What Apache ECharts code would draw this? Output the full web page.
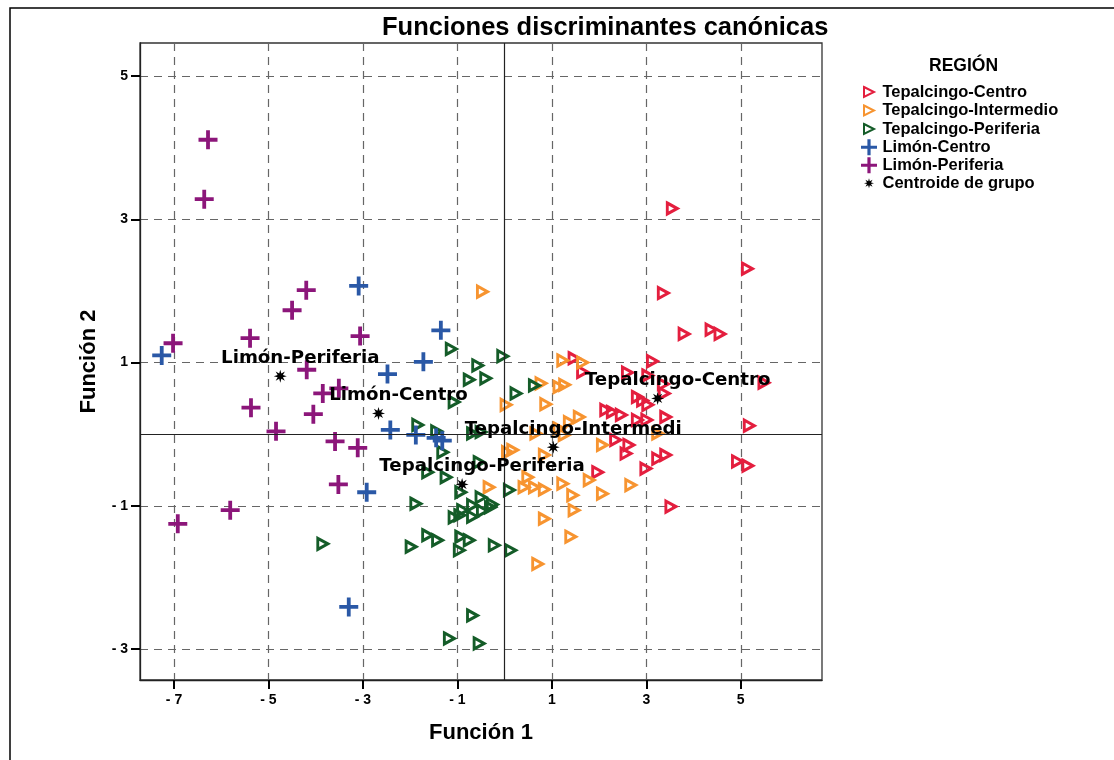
<!DOCTYPE html>
<html><head><meta charset="utf-8">
<script src="https://cdn.jsdelivr.net/npm/echarts@6/dist/echarts.min.js"></script>
<style>html,body{margin:0;padding:0;background:#fff}#c{width:1114px;height:760px}</style>
</head><body><div id="c"></div><script>
// ---- data ----
const xTicks = [-7, -5, -3, -1, 1, 3, 5];
const yTicks = [-3, -1, 1, 3, 5];
const seriesNames = ['Tepalcingo-Centro', 'Tepalcingo-Intermedio', 'Tepalcingo-Periferia', 'Limón-Centro', 'Limón-Periferia', 'Centroide de grupo'];

const tepCentro = [[3.55,3.15],[5.14,2.31],[3.36,1.97],[3.80,1.40],[4.37,1.46],[4.56,1.40],[3.13,1.02],[1.47,1.06],[1.65,0.87],[2.60,0.86],[3.03,0.82],[5.49,0.72],[3.36,0.70],[2.81,0.52],[2.92,0.47],[3.03,0.41],[3.38,0.57],[2.14,0.34],[2.28,0.31],[2.47,0.27],[2.81,0.20],[3.01,0.20],[3.41,0.24],[5.18,0.12],[2.35,-0.08],[2.63,-0.15],[2.57,-0.27],[3.24,-0.34],[3.41,-0.29],[2.99,-0.48],[1.97,-0.53],[4.93,-0.38],[5.15,-0.44],[3.52,-1.01]];

const tepIntermedio = [[-0.47,1.99],[1.23,1.03],[1.65,1.00],[0.77,0.71],[1.15,0.66],[1.27,0.69],[0.03,0.41],[0.87,0.42],[1.37,0.17],[1.58,0.24],[1.15,0.08],[1.26,-0.01],[0.66,0.01],[0.84,-0.29],[0.17,-0.22],[0.06,-0.25],[2.07,-0.15],[3.24,0.01],[0.49,-0.60],[-0.33,-0.74],[0.41,-0.74],[0.63,-0.74],[0.84,-0.77],[1.23,-0.69],[1.44,-0.85],[1.79,-0.64],[2.07,-0.83],[2.67,-0.71],[1.47,-1.06],[0.84,-1.18],[1.40,-1.43],[0.70,-1.81]];

const tepPeriferia = [[-1.13,1.19],[-0.04,1.09],[-0.57,0.96],[-0.75,0.76],[-0.40,0.78],[-1.07,0.45],[0.24,0.57],[0.63,0.68],[-1.84,0.13],[-1.44,0.04],[-0.68,0.01],[-0.50,0.03],[-1.31,-0.25],[-1.63,-0.53],[-1.24,-0.60],[-0.54,-0.39],[-0.93,-0.81],[-1.88,-0.97],[0.10,-0.78],[-0.50,-0.88],[-0.26,-0.98],[-0.68,-0.99],[-0.89,-1.06],[-1.07,-1.16],[-0.68,-1.15],[-0.47,-1.07],[-0.95,-1.13],[-0.30,-1.02],[-1.63,-1.41],[-1.42,-1.48],[-1.98,-1.57],[-0.93,-1.43],[-0.75,-1.48],[-0.96,-1.62],[-0.22,-1.55],[0.13,-1.62],[-3.85,-1.53],[-0.68,-2.53],[-1.17,-2.85],[-0.54,-2.92]];

const limonCentro = [[-3.09,2.07],[-1.35,1.45],[-1.72,1.01],[-7.26,1.10],[-2.48,0.84],[-2.42,0.06],[-1.88,-0.01],[-1.45,-0.05],[-1.32,-0.09],[-2.92,-0.81],[-3.30,-2.41]];

const limonPeriferia = [[-6.28,4.11],[-6.36,3.28],[-4.20,2.01],[-4.50,1.73],[-5.39,1.34],[-3.06,1.37],[-7.02,1.27],[-4.19,0.90],[-3.85,0.57],[-3.51,0.64],[-5.37,0.37],[-4.05,0.28],[-4.84,0.04],[-3.59,-0.10],[-3.11,-0.19],[-3.52,-0.70],[-5.81,-1.06],[-6.92,-1.25]];

const centroidNames = ['Tepalcingo-Centro', 'Tepalcingo-Intermedi', 'Tepalcingo-Periferia', 'Limón-Centro', 'Limón-Periferia'];
const centroids = [[3.24,0.50],[1.03,-0.18],[-0.90,-0.70],[-2.67,0.29],[-4.75,0.81]];

// ---- styles ----
const colors = ['rgb(228,30,62)', 'rgb(247,148,48)', 'rgb(20,92,40)', 'rgb(42,88,166)', 'rgb(140,22,122)', '#000'];
const triPath = 'path://M0,0L10,5L0,10Z';
const crossPath = 'path://M4,0H6V4H10V6H6V10H4V6H0V4H4Z';
const starPath = 'path://M10,5L7.03,5.84L8.54,8.54L5.84,7.03L5,10L4.16,7.03L1.46,8.54L2.97,5.84L0,5L2.97,4.16L1.46,1.46L4.16,2.97L5,0L5.84,2.97L8.54,1.46L7.03,4.16Z';
const triIcon = 'path://M-3,-3M0,0L10,5L0,10ZM13,13';
const starIcon = 'path://M-3,-3M10,5L7.03,5.84L8.54,8.54L5.84,7.03L5,10L4.16,7.03L1.46,8.54L2.97,5.84L0,5L2.97,4.16L1.46,1.46L4.16,2.97L5,0L5.84,2.97L8.54,1.46L7.03,4.16ZM13,13';
const tickFmt = v => v < 0 ? '- ' + (-v) : String(v);

function triSeries(name, data, color) {
  return {
    name, type: 'scatter', data, symbol: triPath, symbolSize: [10, 11],
    itemStyle: { color: 'rgba(0,0,0,0)', borderColor: color, borderWidth: 3, opacity: 1 },
    emphasis: { disabled: true }, z: 3
  };
}
function crossSeries(name, data, color) {
  return {
    name, type: 'scatter', data, symbol: crossPath, symbolSize: 19,
    itemStyle: { color: color, borderWidth: 0, opacity: 1 }, emphasis: { disabled: true }, z: 4
  };
}

const chart = echarts.init(document.getElementById('c'), null, { renderer: 'canvas' });
const font = "'Liberation Sans', Arial, sans-serif";
const option = {
  animation: false,
  backgroundColor: '#fff',
  title: [
    { text: 'Funciones discriminantes canónicas', left: 377, top: 10,
      textStyle: { fontFamily: font, fontWeight: 'bold', fontSize: 25.5, color: '#000' } },
    { text: 'REGIÓN', left: 924, top: 52,
      textStyle: { fontFamily: font, fontWeight: 'bold', fontSize: 17.5, color: '#000' } }
  ],
  legend: {
    orient: 'vertical', left: 860, top: 83, padding: 0, itemGap: 0.5, itemWidth: 17, itemHeight: 16,
    textStyle: { fontFamily: font, fontWeight: 'bold', fontSize: 16.5, lineHeight: 17.5, color: '#000', padding: [0, 0, 0, 0] },
    data: [
      { name: seriesNames[0], icon: triIcon },
      { name: seriesNames[1], icon: triIcon },
      { name: seriesNames[2], icon: triIcon },
      { name: seriesNames[3], icon: crossPath },
      { name: seriesNames[4], icon: crossPath },
      { name: seriesNames[5], icon: starIcon }
    ],
    selectedMode: false
  },
  grid: { left: 140, top: 43, right: 292, bottom: 80, show: true, borderColor: '#333', borderWidth: 1.3 },
  xAxis: {
    type: 'value', min: -7.72, max: 6.72, name: 'Función 1', nameLocation: 'middle', nameGap: 42,
    nameTextStyle: { fontFamily: font, fontWeight: 'bold', fontSize: 22, color: '#000' },
    axisLine: { show: true, onZero: false, lineStyle: { color: '#222', width: 1.3 } },
    axisTick: { show: true, customValues: xTicks, length: 9, inside: false, lineStyle: { color: '#000', width: 2 } },
    axisLabel: { customValues: xTicks, formatter: tickFmt, margin: 13, fontFamily: font, fontWeight: 'bold', fontSize: 14, color: '#000' },
    splitLine: { show: true, lineStyle: { color: '#666', width: 1.2, type: [8, 6] } }
  },
  yAxis: {
    type: 'value', min: -3.43, max: 5.46, name: 'Función 2', nameLocation: 'middle', nameGap: 40, nameRotate: 90,
    nameTextStyle: { fontFamily: font, fontWeight: 'bold', fontSize: 22, color: '#000' },
    axisLine: { show: true, onZero: false, lineStyle: { color: '#222', width: 1.3 } },
    axisTick: { show: true, customValues: yTicks, length: 9, inside: false, lineStyle: { color: '#000', width: 2 } },
    axisLabel: { customValues: yTicks, formatter: tickFmt, margin: 12, fontFamily: font, fontWeight: 'bold', fontSize: 14, color: '#000' },
    splitLine: { show: true, lineStyle: { color: '#666', width: 1.2, type: [8, 6] } }
  },
  graphic: [
    { type: 'rect', shape: { x: 10, y: 8, width: 1300, height: 900 }, style: { fill: 'none', stroke: '#000', lineWidth: 1.5 }, silent: true, z: 100 }
  ],
  series: [
    Object.assign(triSeries(seriesNames[0], tepCentro, colors[0]), {
      markLine: {
        silent: true, symbol: ['none', 'none'], label: { show: false }, animation: false,
        lineStyle: { type: 'solid', color: '#222', width: 1.2, opacity: 1 },
        emphasis: { disabled: true },
        data: [{ xAxis: 0 }, { yAxis: 0 }]
      }
    }),
    triSeries(seriesNames[1], tepIntermedio, colors[1]),
    triSeries(seriesNames[2], tepPeriferia, colors[2]),
    crossSeries(seriesNames[3], limonCentro, colors[3]),
    crossSeries(seriesNames[4], limonPeriferia, colors[4]),
    {
      name: seriesNames[5], type: 'scatter', symbol: starPath, symbolSize: 13, z: 10,
      itemStyle: { color: '#000', opacity: 1 }, emphasis: { disabled: true },
      data: centroids.map((c, i) => ({ value: c, name: centroidNames[i] })),
      label: {
        show: true, position: 'inside', offset: [20, -18], formatter: p => p.name,
        fontFamily: "'DejaVu Sans', Verdana, sans-serif", fontWeight: 'bold', fontSize: 18.2, color: '#000', opacity: 1
      }
    }
  ]
};
chart.setOption(option);
</script></body></html>
